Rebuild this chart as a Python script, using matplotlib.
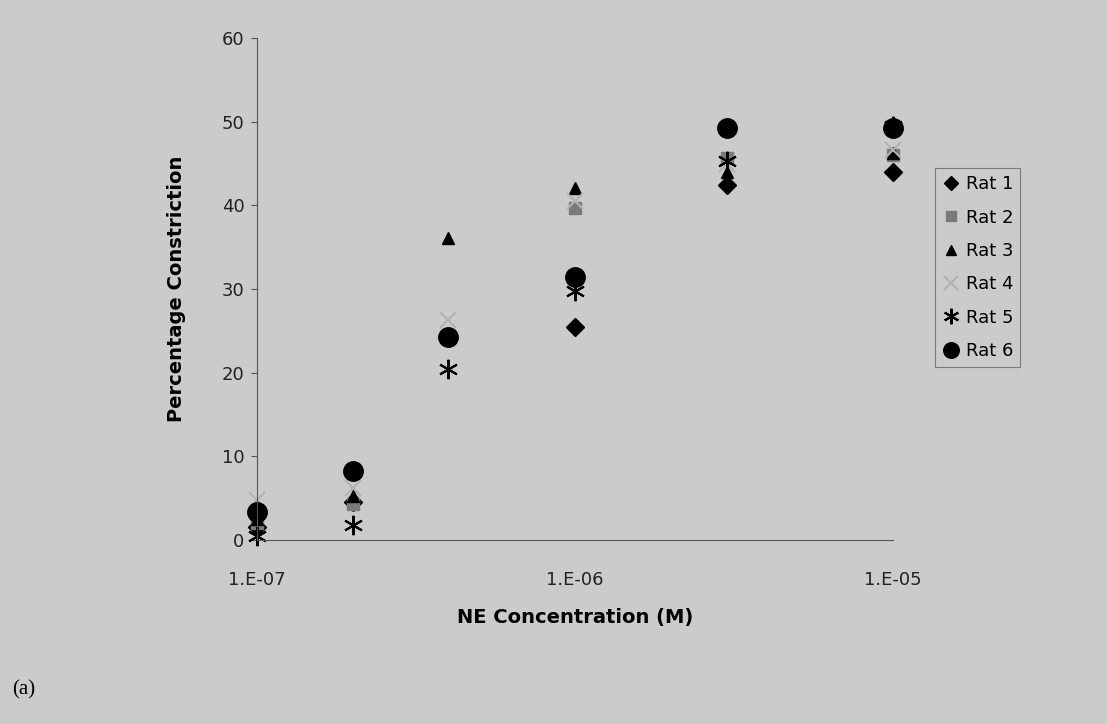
import numpy as np
import matplotlib
matplotlib.use("Agg")
import matplotlib.pyplot as plt

# ---- data ----
concentrations = [1e-7, 2e-7, 4e-7, 1e-6, 3e-6, 1e-5]
rat1 = [1.5, 4.6, np.nan, 25.4, 42.4, 44.0]
rat2 = [2.0, 4.3, np.nan, 39.7, 45.6, 46.0]
rat3 = [2.5, 5.2, 36.1, 42.1, 44.0, 46.2]
rat4 = [4.8, 6.2, 26.3, 40.5, 45.0, 46.6]
rat5 = [0.5, 1.8, 20.4, 29.8, 45.3, 49.5]
rat6 = [3.3, 8.3, 24.3, 31.4, 49.3, 49.3]
series_names = ["Rat 1", "Rat 2", "Rat 3", "Rat 4", "Rat 5", "Rat 6"]
x_ticks = [1e-7, 1e-6, 1e-5]
x_tick_labels = ["1.E-07", "1.E-06", "1.E-05"]
y_ticks = [0, 10, 20, 30, 40, 50, 60]

bg = "#cbcbcb"
W, H = 1107, 724
fig = plt.figure(figsize=(W / 100, H / 100), dpi=100, facecolor=bg)
ax = fig.add_axes([257 / W, 1 - 540 / H, (893 - 257) / W, (540 - 38) / H])
ax.set_facecolor(bg)

styles = [
    dict(marker="D", color="black", ms=9),
    dict(marker="s", color="#7a7a7a", ms=9),
    dict(marker="^", color="black", ms=9),
    dict(marker="x", color="#b2b2b2", ms=12, mew=1.5),
    dict(marker=(6, 2, 0), color="black", ms=14, mew=1.5),
    dict(marker="o", color="black", ms=14),
]
data = [rat1, rat2, rat3, rat4, rat5, rat6]
handles = []
for name, ys, st in zip(series_names, data, styles):
    h, = ax.plot(concentrations, ys, linestyle="none", marker=st["marker"],
                 color=st["color"], markersize=st["ms"],
                 markeredgewidth=st.get("mew", 1.0), label=name, clip_on=False)
    handles.append(h)

ax.set_xscale("log")
ax.set_xlim(1e-7, 1e-5)
ax.set_ylim(0, 60)
ax.set_xticks(x_ticks)
ax.set_xticklabels(x_tick_labels)
ax.xaxis.set_minor_locator(matplotlib.ticker.NullLocator())
ax.set_yticks(y_ticks)

for s in ["top", "right"]:
    ax.spines[s].set_visible(False)
for s in ["left", "bottom"]:
    ax.spines[s].set_color("#555555")
    ax.spines[s].set_linewidth(0.8)

ax.tick_params(axis="y", direction="out", length=4, width=0.8, color="#555555",
               labelsize=13, pad=5, labelcolor="#222222")
ax.tick_params(axis="x", direction="out", length=0, width=0.8, color="#555555",
               labelsize=13, pad=22, labelcolor="#222222")

ax.set_xlabel("NE Concentration (M)", fontsize=14, fontweight="bold", labelpad=14)
ax.set_ylabel("Percentage Constriction", fontsize=14, fontweight="bold", labelpad=26)

leg = fig.legend(handles=handles, loc="upper left",
                 bbox_to_anchor=(935 / W, 1 - 168 / H),
                 fontsize=13, frameon=True, fancybox=False, markerscale=0.8,
                 handlelength=1.0, handletextpad=0.3, labelspacing=0.85,
                 borderpad=0.4, borderaxespad=0)
leg.get_frame().set_facecolor(bg)
leg.get_frame().set_edgecolor("#666666")
leg.get_frame().set_linewidth(0.8)

fig.text(12 / W, 1 - 690 / H, "(a)", family="Liberation Serif", fontsize=15,
         va="center", ha="left")

fig.savefig("out.png", dpi=100, facecolor=bg)
